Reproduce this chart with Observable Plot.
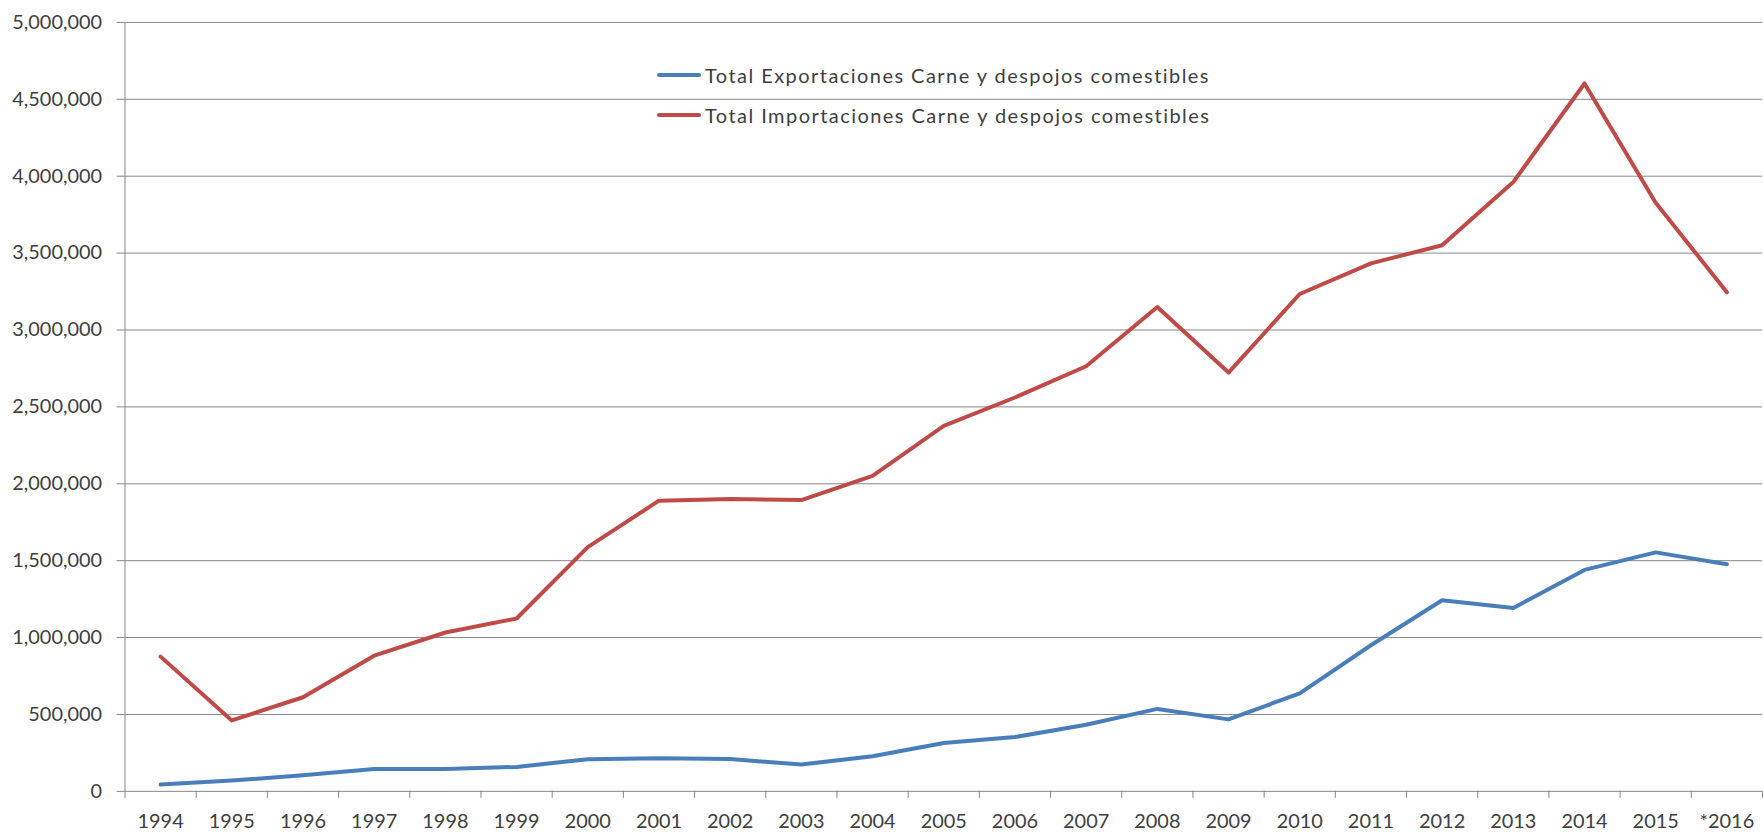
<!DOCTYPE html>
<html><head><meta charset="utf-8">
<script src="https://cdn.jsdelivr.net/npm/d3@7"></script>
<script src="https://cdn.jsdelivr.net/npm/@observablehq/plot@0.6"></script>
<style>
html,body{margin:0;padding:0;background:#fff;overflow:hidden;}
#wrap{position:relative;width:1763px;height:837px;overflow:hidden;background:#fff;}
.leg{position:absolute;left:657px;height:30px;display:flex;align-items:center;font-family:Lato,sans-serif;font-size:20px;letter-spacing:1.45px;color:#404040;white-space:nowrap;}
.leg .sw{width:44px;height:4px;border-radius:2px;margin-right:4px;}
</style></head><body><div id="wrap"></div>
<script>
const years = ["1994","1995","1996","1997","1998","1999","2000","2001","2002","2003","2004","2005","2006","2007","2008","2009","2010","2011","2012","2013","2014","2015","*2016"];
const exportaciones = [44000,70000,105000,146000,146000,159000,209000,215000,210000,174000,228000,314000,353000,433000,536000,468000,637000,950000,1243000,1192000,1440000,1554000,1477000];
const importaciones = [876000,461000,612000,882000,1033000,1124000,1588000,1890000,1901000,1894000,2052000,2376000,2561000,2764000,3149000,2723000,3234000,3433000,3551000,3962000,4603000,3828000,3245000];
const seriesNames = ["Total Exportaciones Carne y despojos comestibles","Total Importaciones Carne y despojos comestibles"];
const seriesColors = ["#4A7EBB","#BE4B48"];
const yTicks = d3.range(0, 5000001, 500000);

const rows = [];
years.forEach((y, i) => {
  rows.push({i, year: y, value: exportaciones[i], series: seriesNames[0]});
});
years.forEach((y, i) => {
  rows.push({i, year: y, value: importaciones[i], series: seriesNames[1]});
});
const idx = d3.range(years.length);
const bounds = d3.range(years.length + 1).map(k => k - 0.5);
const gray = "#868686";

const chart = Plot.plot({
  width: 1770, height: 837,
  marginLeft: 125, marginRight: 1, marginTop: 22, marginBottom: 43,
  x: {type: "linear", domain: [-0.5, years.length - 0.5], axis: null},
  y: {domain: [0, 5000000], axis: null},
  color: {domain: seriesNames, range: seriesColors},
  style: {fontFamily: "Lato, sans-serif", fontSize: "20px", color: "#404040", background: "white", overflow: "hidden"},
  marks: [
    Plot.gridY(yTicks, {stroke: gray, strokeOpacity: 1, strokeWidth: 1}),
    Plot.axisY(yTicks, {tickSize: 8, tickPadding: 15, tickFormat: d3.format(","), stroke: gray, label: null, fontSize: 20}),
    Plot.ruleX([-0.5], {y1: 0, y2: 5000000, stroke: gray}),
    Plot.axisX(bounds, {tickSize: 7, tickFormat: () => "", stroke: gray, label: null}),
    Plot.axisX(idx, {tickSize: 0, tickPadding: 23, tickFormat: i => years[i], label: null, fontSize: 20}),
    Plot.line(rows, {x: "i", y: "value", z: "series", stroke: "series", strokeWidth: 4})
  ]
});
const wrap = document.getElementById("wrap");
wrap.appendChild(chart);
seriesNames.forEach((name, k) => {
  const d = document.createElement("div");
  d.className = "leg";
  d.style.top = (60 + k * 40) + "px";
  const sw = document.createElement("div");
  sw.className = "sw";
  sw.style.background = seriesColors[k];
  const t = document.createElement("span");
  t.textContent = name;
  d.appendChild(sw); d.appendChild(t);
  wrap.appendChild(d);
});
</script></body></html>
